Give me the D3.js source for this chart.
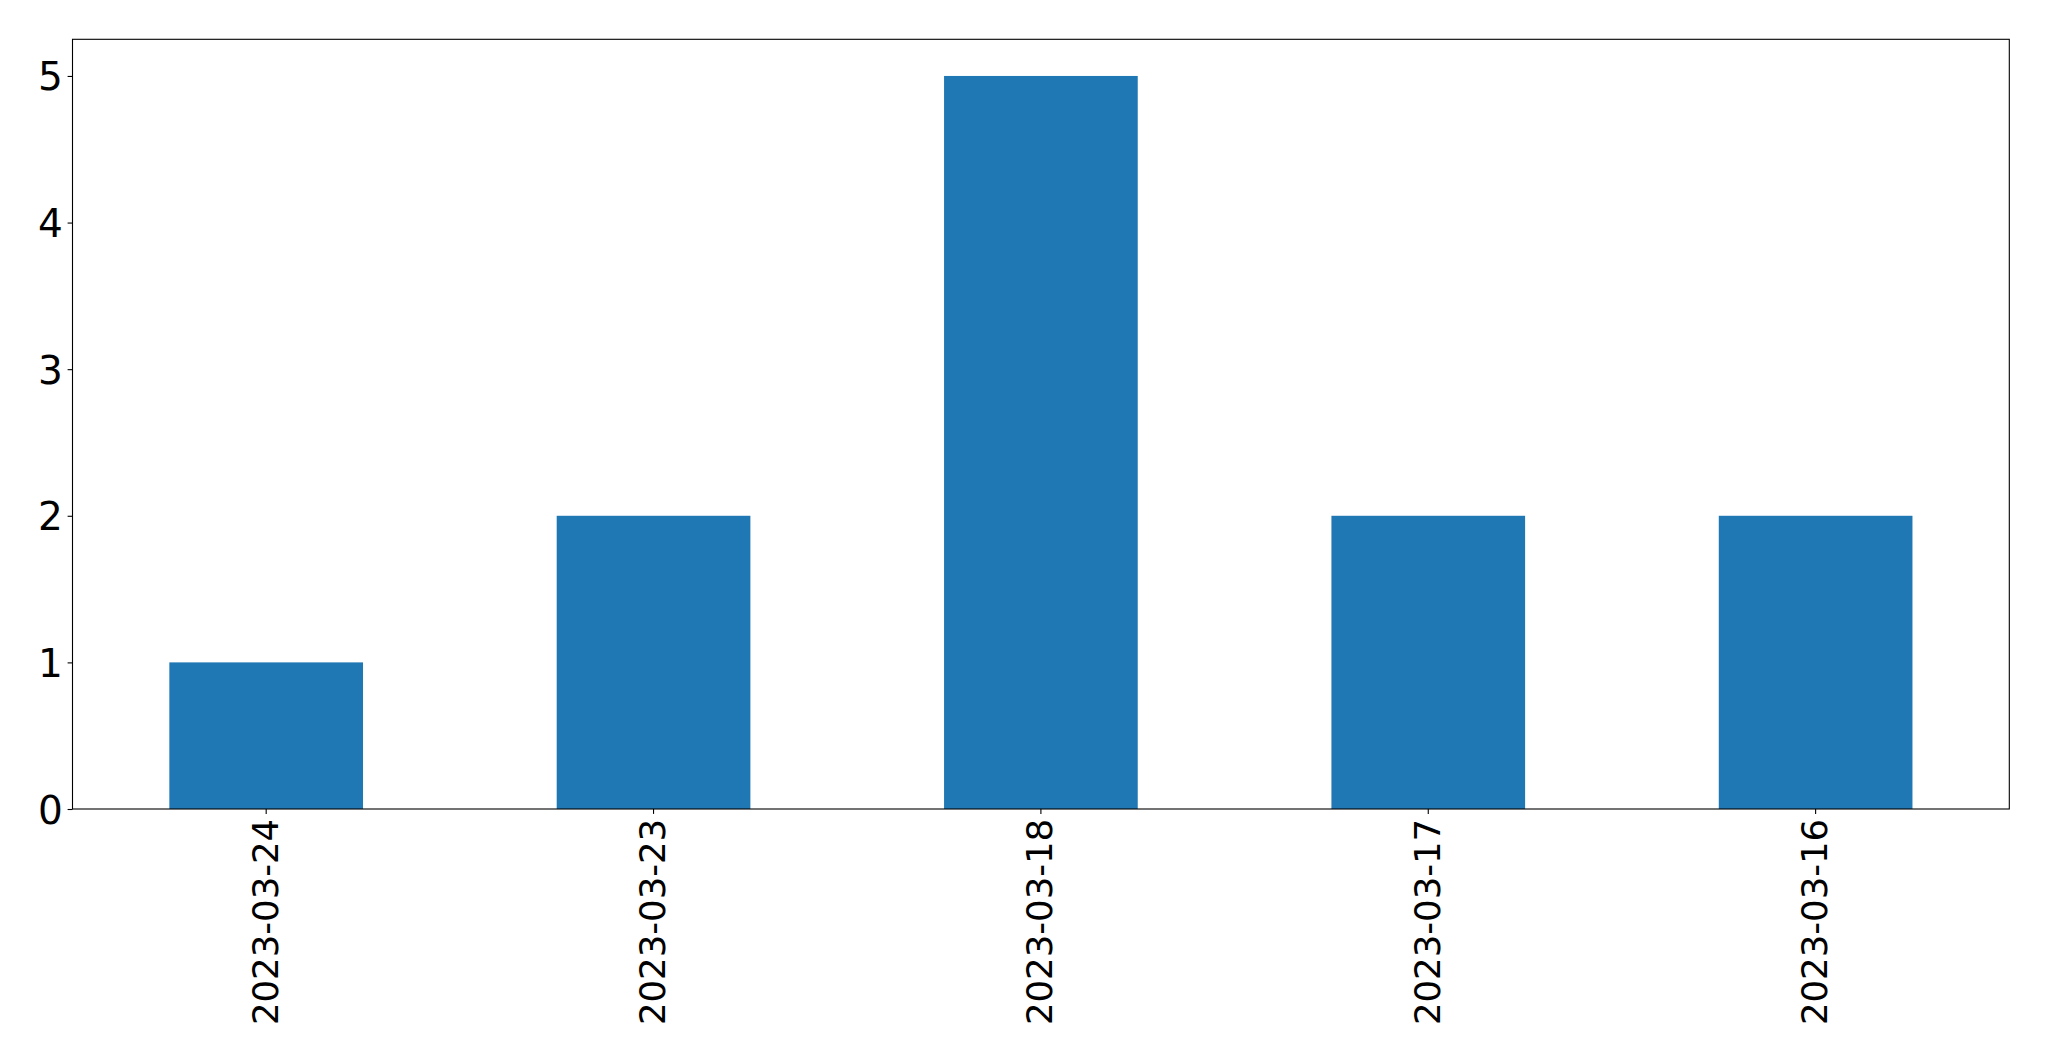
<!DOCTYPE html>
<html>
<head>
<meta charset="utf-8">
<script src="https://cdn.jsdelivr.net/npm/d3@7"></script>
<style>
html, body { margin: 0; padding: 0; background: #fff; }
svg { display: block; }
</style>
</head>
<body>
<script>
const categories = ["2023-03-24", "2023-03-23", "2023-03-18", "2023-03-17", "2023-03-16"];
const values = [1, 2, 5, 2, 2];
const yTicks = [0, 1, 2, 3, 4, 5];

const W = 2049, H = 1061;
const margin = { left: 72.5, right: W - 2009.3, top: 39.3, bottom: H - 809 };
const xFontSize = 35.5;
const yFontSize = 39;
const tickLen = 4.9, pad = 4.9;

const svg = d3.select("body").append("svg").attr("width", W).attr("height", H);

const x = d3.scaleBand().domain(categories)
  .range([margin.left, W - margin.right]).paddingInner(0.5).paddingOuter(0.25);
const y = d3.scaleLinear().domain([0, 5.25]).range([H - margin.bottom, margin.top]);

svg.append("g").selectAll("rect").data(categories).join("rect")
  .attr("x", d => x(d))
  .attr("width", x.bandwidth())
  .attr("y", (d, i) => y(values[i]))
  .attr("height", (d, i) => y(0) - y(values[i]))
  .attr("fill", "#1f77b4");

// y axis
const yAxis = d3.axisLeft(y).tickValues(yTicks).tickSize(tickLen).tickPadding(pad).tickFormat(d3.format("d"));
const gy = svg.append("g").attr("transform", `translate(${margin.left},0)`).call(yAxis);
gy.select(".domain").remove();
gy.selectAll(".tick line").attr("stroke", "#000").attr("stroke-width", 1.1);
gy.selectAll(".tick text").attr("fill", "#000").attr("dy", "0.36em")
  .style("font-family", "DejaVu Sans").style("font-size", yFontSize + "px");

// x axis
const xAxis = d3.axisBottom(x).tickSize(tickLen).tickPadding(pad);
const gx = svg.append("g").attr("transform", `translate(0,${H - margin.bottom})`).call(xAxis);
gx.select(".domain").remove();
gx.selectAll(".tick line").attr("stroke", "#000").attr("stroke-width", 1.1);
gx.selectAll(".tick text").attr("fill", "#000")
  .style("font-family", "DejaVu Sans").style("font-size", xFontSize + "px")
  .attr("text-anchor", "end")
  .attr("y", 0).attr("dy", "0.32em")
  .attr("transform", `translate(0,${tickLen + pad}) rotate(-90)`);

// frame
svg.append("rect")
  .attr("x", margin.left).attr("y", margin.top)
  .attr("width", W - margin.right - margin.left)
  .attr("height", H - margin.bottom - margin.top)
  .attr("fill", "none").attr("stroke", "#000").attr("stroke-width", 1.1);
</script>
</body>
</html>
